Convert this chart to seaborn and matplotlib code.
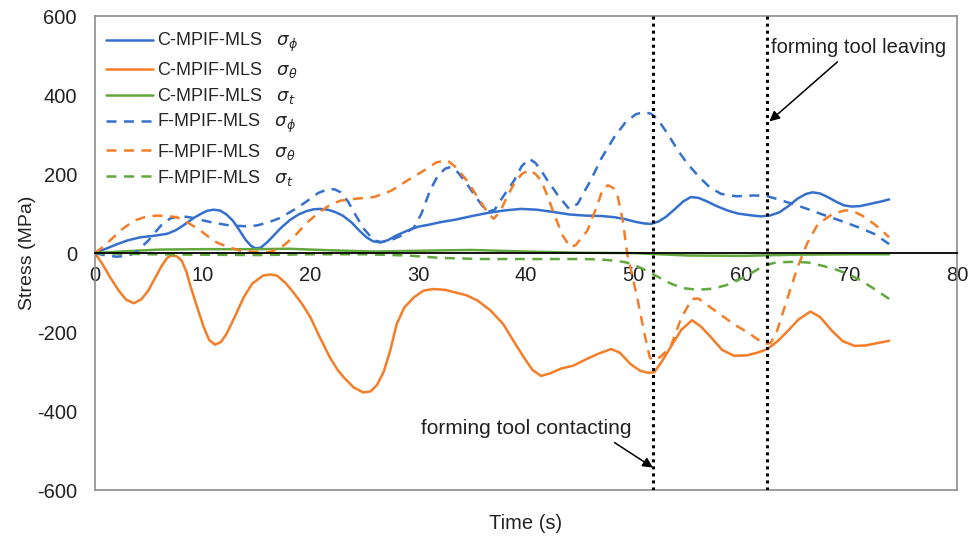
import numpy as np
import pandas as pd
import matplotlib
matplotlib.use("Agg")
import matplotlib.pyplot as plt
import seaborn as sns

# ---------------- data ----------------
t_c_phi = [0, 1, 2, 3, 4.2, 5.5, 6.7, 7.5, 8.3, 9.1, 9.8, 10.4, 11, 11.6, 12.2, 12.8, 13.4, 14.0, 14.5,
           14.9, 15.4, 16, 16.6, 17.3, 18.1, 18.9, 19.7, 20.3, 20.9, 21.6, 22.3, 23, 23.8, 24.5, 25.2,
           25.8, 26.5, 27.2, 28, 29, 30, 31, 32, 33.5, 35, 36.5, 38, 39.5, 41, 42.6, 44, 45.5, 47,
           48.2, 49.2, 50.2, 51, 51.6, 52.3, 53, 53.8, 54.6, 55.3, 56, 56.8, 57.7, 58.7, 59.7, 60.8,
           61.8, 62.6, 63.5, 64.4, 65.2, 66, 66.6, 67.3, 68, 68.8, 69.5, 70.2, 71, 72, 73, 73.7]
s_c_phi = [0, 11, 22, 32, 40, 44, 49, 58, 72, 88, 99, 107, 110, 108, 98, 82, 58, 33, 18,
           12, 14, 28, 45, 65, 84, 98, 107, 111, 112, 110, 104, 95, 78, 58, 40,
           30, 27, 33, 45, 57, 67, 72, 78, 85, 94, 102, 108, 112, 110, 104, 98, 95, 94,
           91, 86, 79, 75, 74, 80, 92, 111, 131, 142, 140, 131, 119, 108, 100, 96,
           93, 95, 103, 120, 138, 150, 154, 151, 142, 130, 121, 118, 119, 125, 131, 136]

t_c_theta = [0, 0.7, 1.4, 2.2, 2.9, 3.6, 4.3, 4.95, 5.6, 6.2, 6.7, 7.1, 7.6, 8.05, 8.5, 8.8, 9.4, 10.1,
             10.6, 11.15, 11.7, 12.2, 13, 13.8, 14.6, 15.6, 16.3, 16.9, 17.7, 18.4, 19.2, 20.0, 20.9,
             21.8, 22.5, 23.1, 24, 24.9, 25.6, 26.2, 26.8, 27.4, 28.0, 28.7, 29.6, 30.5, 31.4, 32.5,
             33.5, 34.5, 35.5, 36.7, 37.9, 38.9, 39.8, 40.6, 41.4, 42.2, 43.3, 44.4, 45.5, 46.7,
             47.9, 48.7, 49.7, 50.6, 51.3, 51.9, 52.6, 53.4, 54.4, 55.4, 56.2, 57.2, 58.2, 59.3,
             60.5, 61.5, 62.4, 63.4, 64.3, 65.3, 66.4, 67.3, 68.4, 69.4, 70.5, 71.5, 72.6, 73.7]
s_c_theta = [0, -28, -61, -95, -118, -127, -117, -95, -62, -32, -12, -6, -8, -19, -48, -78, -130, -188,
             -220, -232, -225, -205, -160, -112, -77, -57, -54, -57, -76, -99, -128, -163, -215,
             -264, -295, -315, -340, -353, -350, -333, -300, -247, -180, -138, -112, -95, -91, -93,
             -100, -107, -120, -145, -180, -225, -264, -296, -311, -305, -292, -285, -270, -255,
             -243, -252, -281, -298, -303, -302, -275, -239, -195, -170, -185, -214, -245, -260,
             -259, -252, -243, -222, -197, -168, -148, -162, -197, -223, -235, -234, -228, -222]

t_c_t = [0, 3, 6, 10, 15, 18, 22, 26, 30, 35, 40, 45, 50, 55, 60, 65, 70, 73.7]
s_c_t = [0, 5, 9, 10, 10, 11, 7, 4, 6, 8, 4, 1, 0, -6, -7, -4, -3, -3]

t_f_phi = [0, 1, 2, 3, 3.7, 4.3, 4.96, 5.5, 6.2, 7.0, 7.8, 8.5, 9.1, 10, 11, 12.5, 14, 15, 16, 17,
           17.8, 18.8, 19.7, 20.7, 21.7, 22.3, 22.8, 23.5, 24.3, 25, 25.9, 26.6, 27.4, 28.5, 29.6,
           30.3, 31.1, 31.8, 32.5, 33.0, 33.7, 34.5, 35.4, 36.4, 37.1, 37.8, 38.9, 39.6, 40.3, 40.9,
           41.5, 42.0, 43, 44.0, 44.8, 45.4, 46.0, 47, 48.2, 49.2, 50.2, 51.0, 51.6, 52.2, 53.2,
           54.1, 55.0, 56, 57, 58.1, 59.5, 61.2, 62.3, 63.3, 64.7, 66.1, 67.6, 69.2, 70.8, 72.3, 73.7]
s_f_phi = [0, -6, -9, -7, 0, 15, 32, 50, 72, 88, 93, 92, 89, 83, 77, 70, 68, 70, 77, 87,
           99, 115, 132, 152, 163, 161, 154, 130, 91, 60, 32, 28, 32, 45, 65,
           100, 159, 195, 214, 218, 204, 176, 140, 104, 110, 140, 184, 220, 239, 228,
           205, 184, 145, 112, 125, 155, 184, 240, 294, 330, 352, 357, 353, 340, 300,
           260, 226, 195, 168, 150, 144, 146, 145, 137, 125, 112, 97, 82, 66, 49, 23]

t_f_theta = [0, 0.7, 1.4, 2.5, 3.6, 4.6, 5.7, 6.6, 7.6, 8.7, 9.8, 10.5, 11.3, 12.4, 13.5, 14.8, 16.0,
             16.8, 17.5, 18.6, 19.7, 20.8, 21.8, 22.8, 24.3, 25.9, 27.5, 29.0, 30.4, 31.7, 32.7,
             33.6, 34.5, 35.8, 36.5, 37.0, 37.6, 38.2, 38.9, 39.6, 40.3, 40.9, 41.4, 42.0, 42.6,
             43.4, 44.1, 44.6, 45.2, 45.7, 46.6, 47.1, 47.6, 48.1, 48.5, 49.0, 49.4, 50.3, 51.0,
             51.5, 51.9, 52.5, 53.4, 54.4, 55.4, 56.0, 57.5, 59.3, 60.8, 62.1, 62.7, 63.3, 64.2,
             65.2, 66.1, 67.1, 68.5, 69.6, 70.2, 71.2, 72.3, 73.0, 73.7]
s_f_theta = [0, 15, 32, 60, 82, 91, 95, 94, 91, 76, 57, 42, 27, 15, 6, 3, 2,
             8, 19, 45, 78, 103, 122, 133, 138, 142, 158, 184, 207, 230, 235,
             215, 184, 130, 100, 87, 105, 140, 176, 200, 211, 200, 184, 145, 99,
             45, 15, 20, 40, 57, 120, 160, 172, 165, 146, 80, -2, -110, -205,
             -265, -272, -262, -239, -165, -116, -115, -145, -180, -205, -230, -228, -197, -120,
             -36, 25, 74, 100, 108, 108, 95, 74, 58, 40]

t_f_t = [0, 5, 10, 15, 20, 25, 29, 32, 35.8, 40, 45.1, 46.8, 48.2, 49.2, 50.0, 51, 51.9, 52.8, 53.5,
         54.7, 55.9, 57.4, 59.0, 60.5, 62.1, 63.0, 63.7, 65, 66.2, 67.5, 68.8, 69.9, 71, 72.4, 73.7]
s_f_t = [0, -3, -4, -5, -3, -3, -6, -12, -15, -15, -15, -16, -19, -23, -29, -42, -55, -68, -78,
         -89, -93, -90, -78, -57, -32, -25, -23, -22, -24, -32, -42, -53, -68, -92, -116]

series_names = ["C-MPIF-MLS   $\\sigma_\\phi$", "C-MPIF-MLS   $\\sigma_\\theta$", "C-MPIF-MLS   $\\sigma_t$",
                "F-MPIF-MLS   $\\sigma_\\phi$", "F-MPIF-MLS   $\\sigma_\\theta$", "F-MPIF-MLS   $\\sigma_t$"]
event_times = [51.8, 62.4]
x_ticks = [0, 10, 20, 30, 40, 50, 60, 70, 80]
y_ticks = [-600, -400, -200, 0, 200, 400, 600]

# ---------------- build long table ----------------
all_t = [t_c_phi, t_c_theta, t_c_t, t_f_phi, t_f_theta, t_f_t]
all_s = [s_c_phi, s_c_theta, s_c_t, s_f_phi, s_f_theta, s_f_t]
frames = []
for name, tt, ss in zip(series_names, all_t, all_s):
    frames.append(pd.DataFrame({"t": tt, "s": ss, "series": name}))
df = pd.concat(frames, ignore_index=True)

blue, orange, green = "#3570CC", "#F47E28", "#62A83E"
palette = dict(zip(series_names, [blue, orange, green, blue, orange, green]))
dashes = dict(zip(series_names, ["", "", "", (4, 3), (4, 3), (4, 3)]))

sns.set_style("white")
plt.rcParams["font.family"] = ["Liberation Sans", "DejaVu Sans"]
plt.rcParams["mathtext.fontset"] = "dejavusans"

fig = plt.figure(figsize=(9.69, 5.39), dpi=100)
ax = fig.add_axes([0.098, 0.0909, 0.8896, 0.879])

sns.lineplot(data=df, x="t", y="s", hue="series", style="series", palette=palette,
             dashes=dashes, estimator=None, sort=False, linewidth=1.8, ax=ax, legend=True)
for ln in ax.get_lines():
    ln.set_solid_joinstyle("round")
    ln.set_dash_joinstyle("round")

for et in event_times:
    ax.axvline(et, color="black", linestyle=(0, (1, 1.3)), linewidth=2.2, zorder=5)

ax.set_xlim(0, 80)
ax.set_ylim(-600, 600)
ax.set_xticks(x_ticks)
ax.set_yticks(y_ticks)
ax.set_xticklabels([str(v) for v in x_ticks])
ax.set_yticklabels([str(v) for v in y_ticks])

grey = "#8c8c8c"
for side in ["left", "top", "right"]:
    ax.spines[side].set_color(grey)
    ax.spines[side].set_linewidth(1.2)
ax.spines["bottom"].set_position(("data", 0))
ax.spines["bottom"].set_color("black")
ax.spines["bottom"].set_linewidth(1.3)
ax.plot([0, 1], [0, 0], transform=ax.transAxes, color=grey, linewidth=1.2, clip_on=False)

ax.tick_params(axis="x", direction="inout", length=8, width=1.2, color="black",
               labelsize=14.5, pad=5, labelcolor="#222222")
ax.tick_params(axis="y", direction="out", length=5, width=1.2, color=grey,
               labelsize=14.5, pad=8, labelcolor="#222222")

ax.set_xlabel("Time (s)", fontsize=14.5, color="#222222")
ax.xaxis.set_label_coords(0.5, -0.05)
ax.set_ylabel("Stress (MPa)", fontsize=14, color="#222222")
ax.yaxis.set_label_coords(-0.068, 0.5)

ax.annotate("forming tool leaving", xy=(62.4, 329), xytext=(62.7, 521),
            fontsize=14.5, ha="left", va="center", color="#222222")
ax.annotate("", xy=(62.4, 329), xytext=(69.1, 489),
            arrowprops=dict(arrowstyle="-|>", color="black", lw=1.1, mutation_scale=15))
ax.annotate("forming tool contacting", xy=(52.0, -547), xytext=(40.0, -445),
            fontsize=15, ha="center", va="center", color="#222222")
ax.annotate("", xy=(52.0, -547), xytext=(48.0, -476),
            arrowprops=dict(arrowstyle="-|>", color="black", lw=1.1, mutation_scale=15))

handles, labels = ax.get_legend_handles_labels()
ax.legend(handles, labels, loc="upper left", bbox_to_anchor=(-0.004, 1.0), frameon=False,
          fontsize=13, handlelength=2.6, handletextpad=0.25, labelspacing=0.34,
          borderaxespad=0.4)

fig.savefig("out.png", dpi=100)
